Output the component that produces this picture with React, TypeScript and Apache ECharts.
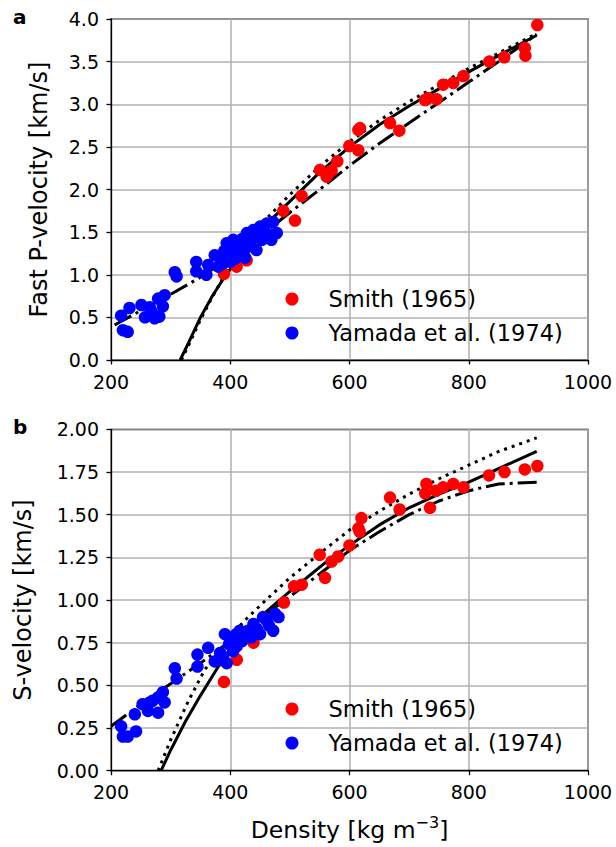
import React, { useEffect, useRef } from "react";
import * as echarts from "echarts";

// Panel a: Fast P-velocity [km/s]
const smithP: number[][] = [
  [389.5, 1.01], [410.7, 1.095], [427.5, 1.17], [489, 1.75], [508.6, 1.635], [519.7, 1.924],
  [550.5, 2.23], [561.7, 2.15], [570, 2.22], [579.6, 2.33], [599.7, 2.51], [614.8, 2.7],
  [614.8, 2.46], [617.6, 2.72], [668, 2.78], [683.5, 2.69], [726.6, 3.05], [732, 3.07],
  [746, 3.06], [757, 3.23], [774, 3.25], [791, 3.33], [834.5, 3.5], [859.6, 3.55],
  [894, 3.66], [895, 3.57], [915, 3.93],
];
const yamadaP: number[][] = [
  [217, 0.52], [220, 0.35], [228, 0.33], [231, 0.61], [251, 0.645], [257, 0.5], [265, 0.62],
  [268, 0.57], [273, 0.49], [279, 0.51], [281, 0.51], [279, 0.72], [290, 0.76], [287, 0.63],
  [307, 1.03], [310, 0.98], [343, 1.15], [343, 1.04], [360, 1.0], [363, 1.115], [374, 1.23],
  [380, 1.095], [383, 1.21], [388, 1.135], [394, 1.37], [397, 1.25], [400, 1.15], [390, 1.28],
  [405, 1.41], [408, 1.19], [400, 1.3], [412, 1.38], [416, 1.33], [415, 1.22], [420, 1.42],
  [422, 1.25], [425, 1.2], [428, 1.49], [430, 1.33], [435, 1.4], [439, 1.525], [444, 1.29],
  [445, 1.45], [450, 1.565], [453, 1.41], [455, 1.5], [461, 1.6], [464, 1.47], [469, 1.41],
  [472, 1.62], [478, 1.49],
];
const fitSolidP: number[][] = [
  [316, 0], [330, 0.2], [350, 0.5], [370, 0.75], [390, 0.97], [420, 1.26], [450, 1.52],
  [500, 1.86], [550, 2.2], [600, 2.5], [650, 2.76], [700, 2.98], [750, 3.18], [800, 3.38],
  [850, 3.57], [914, 3.81],
];
const fitDottedP: number[][] = [
  [318, 0], [330, 0.17], [350, 0.47], [370, 0.74], [390, 0.99], [420, 1.3], [450, 1.58],
  [500, 1.94], [550, 2.27], [600, 2.56], [650, 2.81], [700, 3.03], [750, 3.23], [800, 3.42],
  [850, 3.6], [914, 3.83],
];
const fitDashDotP: number[][] = [
  [206, 0.41], [250, 0.58], [300, 0.77], [350, 0.97], [400, 1.2], [450, 1.45], [500, 1.73],
  [550, 2.0], [600, 2.28], [650, 2.54], [700, 2.78], [750, 3.02], [800, 3.26], [850, 3.5],
  [914, 3.82],
];

// Panel b: S-velocity [km/s]
const smithS: number[][] = [
  [389.5, 0.52], [411, 0.65], [439, 0.75], [490, 0.985], [507, 1.08], [520, 1.09],
  [550, 1.265], [559, 1.13], [570, 1.225], [581, 1.255], [600, 1.32], [615, 1.42],
  [617, 1.4], [620, 1.48], [668, 1.6], [684, 1.53], [727, 1.625], [729, 1.68], [735, 1.54],
  [745, 1.64], [757, 1.66], [774, 1.68], [791, 1.66], [834, 1.73], [860, 1.75],
  [894, 1.765], [915, 1.785],
];
const yamadaS: number[][] = [
  [217, 0.26], [220, 0.2], [228, 0.2], [242, 0.23], [240, 0.33], [253, 0.39], [262, 0.35],
  [265, 0.4], [270, 0.41], [279, 0.43], [287, 0.46], [279, 0.34], [290, 0.4], [307, 0.6],
  [310, 0.54], [345, 0.68], [345, 0.61], [363, 0.72], [374, 0.64], [383, 0.69], [388, 0.67],
  [394, 0.63], [391, 0.8], [398, 0.74], [400, 0.78], [405, 0.7], [410, 0.8], [411, 0.73],
  [416, 0.82], [420, 0.76], [428, 0.785], [430, 0.82], [435, 0.78], [439, 0.86], [445, 0.83],
  [450, 0.8], [455, 0.9], [461, 0.88], [465, 0.85], [472, 0.82], [475, 0.92], [481, 0.9],
];
const fitSolidS: number[][] = [
  [284, 0], [300, 0.12], [325, 0.29], [350, 0.44], [380, 0.61], [420, 0.78], [460, 0.93],
  [500, 1.05], [560, 1.22], [600, 1.32], [650, 1.44], [700, 1.54], [750, 1.62], [800, 1.69],
  [850, 1.77], [914, 1.87],
];
const fitDottedS: number[][] = [
  [279, 0], [300, 0.18], [330, 0.41], [357, 0.59], [400, 0.79], [430, 0.9], [460, 1.0],
  [500, 1.13], [560, 1.3], [600, 1.41], [650, 1.52], [700, 1.62], [750, 1.71], [800, 1.79],
  [850, 1.87], [914, 1.95],
];
const fitDashDotS: number[][] = [
  [200, 0.26], [250, 0.39], [300, 0.51], [350, 0.63], [400, 0.76], [450, 0.89], [500, 1.02],
  [560, 1.18], [600, 1.29], [650, 1.4], [700, 1.5], [750, 1.58], [800, 1.64], [850, 1.68],
  [914, 1.69],
];

const xTicks = { min: 200, max: 1000, interval: 200 };
const legendNames = ["Smith (1965)", "Yamada et al. (1974)"];
const FONT = "DejaVu Sans";

export default function App() {
  const ref = useRef<HTMLDivElement>(null);
  useEffect(() => {
    if (!ref.current) return;
    const chart = echarts.init(ref.current, undefined, { renderer: "svg" });

    const axisCommon = {
      type: "value" as const,
      axisLine: { show: true, onZero: false, lineStyle: { color: "#000", width: 1.3 } },
      axisTick: { show: true, inside: false, length: 4.5, lineStyle: { color: "#000", width: 1.3 } },
      axisLabel: { color: "#000", fontSize: 19, fontFamily: FONT, margin: 12 },
      splitLine: { show: true, lineStyle: { color: "#b0b0b0", width: 1.5 } },
    };

    const lineSeries = (data: number[][], idx: number, type: any) => ({
      type: "line",
      xAxisIndex: idx,
      yAxisIndex: idx,
      data,
      symbol: "none",
      showSymbol: false,
      smooth: false,
      lineStyle: { color: "#000", width: 3, type, join: "round" },
      z: 2,
      silent: true,
    });
    const scatter = (name: string, data: number[][], idx: number, color: string) => ({
      type: "scatter",
      name,
      xAxisIndex: idx,
      yAxisIndex: idx,
      data,
      symbol: "circle",
      symbolSize: 12.5,
      itemStyle: { color, opacity: 1 },
      z: 3,
    });
    const legendCommon = {
      orient: "vertical" as const,
      left: 280.5,
      data: legendNames,
      icon: "circle",
      itemWidth: 13,
      itemHeight: 13,
      itemGap: 8,
      selectedMode: false,
      textStyle: { color: "#000", fontSize: 22.5, fontFamily: FONT, lineHeight: 26, padding: [0, 0, 0, 25] },
    };

    chart.setOption({
      animation: false,
      backgroundColor: "#fff",
      textStyle: { fontFamily: FONT },
      title: [
        { text: "a", left: 8, top: 2, textStyle: { fontSize: 20, fontWeight: "bold", color: "#000", fontFamily: FONT } },
        { text: "b", left: 8, top: 412, textStyle: { fontSize: 20, fontWeight: "bold", color: "#000", fontFamily: FONT } },
      ],
      grid: [
        { left: 111, top: 19, width: 477, height: 341, show: true, borderColor: "#000", borderWidth: 1.3, backgroundColor: "transparent" },
        { left: 111, top: 429.3, width: 477, height: 341.4, show: true, borderColor: "#000", borderWidth: 1.3, backgroundColor: "transparent" },
      ],
      legend: [
        { ...legendCommon, top: 281 },
        { ...legendCommon, top: 691 },
      ],
      xAxis: [
        { ...axisCommon, gridIndex: 0, ...xTicks, axisLabel: { ...axisCommon.axisLabel, formatter: (v: number) => String(v) } },
        {
          ...axisCommon,
          gridIndex: 1,
          ...xTicks,
          axisLabel: { ...axisCommon.axisLabel, formatter: (v: number) => String(v) },
          name: "Density [kg m{sup|−3}]",
          nameLocation: "middle",
          nameGap: 44,
          nameTextStyle: {
            color: "#000",
            fontSize: 23.5,
            fontFamily: FONT,
            lineHeight: 30,
            rich: { sup: { fontSize: 16, fontFamily: FONT, color: "#000", verticalAlign: "top", lineHeight: 16 } },
          },
        },
      ],
      yAxis: [
        {
          ...axisCommon,
          gridIndex: 0,
          min: 0,
          max: 4,
          interval: 0.5,
          axisLabel: { ...axisCommon.axisLabel, formatter: (v: number) => v.toFixed(1) },
          name: "Fast P-velocity [km/s]",
          nameLocation: "middle",
          nameGap: 60,
          nameTextStyle: { color: "#000", fontSize: 24, fontFamily: FONT },
        },
        {
          ...axisCommon,
          gridIndex: 1,
          min: 0,
          max: 2,
          interval: 0.25,
          axisLabel: { ...axisCommon.axisLabel, formatter: (v: number) => v.toFixed(2) },
          name: "S-velocity [km/s]",
          nameLocation: "middle",
          nameGap: 76,
          nameTextStyle: { color: "#000", fontSize: 24, fontFamily: FONT },
        },
      ],
      series: [
        lineSeries(fitSolidP, 0, "solid"),
        lineSeries(fitDottedP, 0, [3, 5]),
        lineSeries(fitDashDotP, 0, [19, 5, 3, 5]),
        scatter(legendNames[0], smithP, 0, "#ff0000"),
        scatter(legendNames[1], yamadaP, 0, "#0000ff"),
        lineSeries(fitSolidS, 1, "solid"),
        lineSeries(fitDottedS, 1, [3, 5]),
        lineSeries(fitDashDotS, 1, [19, 5, 3, 5]),
        scatter(legendNames[0], smithS, 1, "#ff0000"),
        scatter(legendNames[1], yamadaS, 1, "#0000ff"),
      ],
    });
    return () => chart.dispose();
  }, []);
  return <div ref={ref} style={{ position: "absolute", left: 0, top: 0, width: 616, height: 847 }} />;
}
